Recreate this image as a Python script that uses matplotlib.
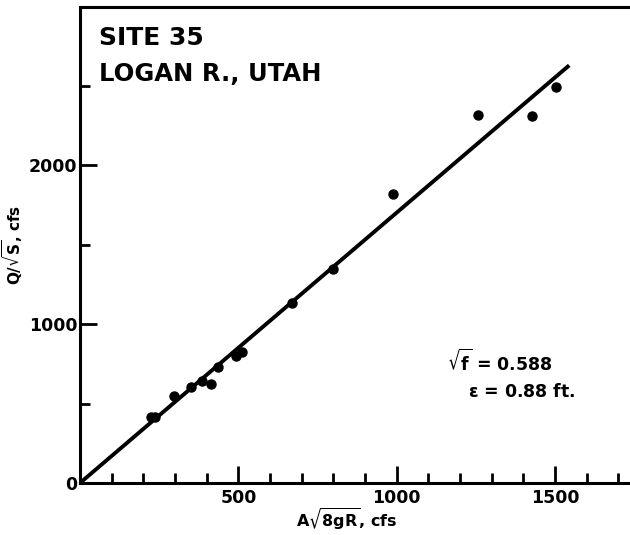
import matplotlib.pyplot as plt
from matplotlib.ticker import FixedLocator, NullFormatter

plt.rcParams['font.family'] = ['DejaVu Sans']
plt.rcParams['font.weight'] = 'bold'
plt.rcParams['mathtext.fontset'] = 'dejavusans'
plt.rcParams['mathtext.default'] = 'bf'

a_sqrt_8gR = [223, 237, 298, 350, 384, 413, 436, 492, 512, 670, 799, 988, 1256, 1427, 1504]
q_sqrt_s = [413, 417, 547, 606, 643, 621, 731, 801, 824, 1135, 1346, 1820, 2312, 2306, 2492]

# fitted line, sqrt(f) = 0.588
line_x = [0, 1545]
line_y = [0, 2627]

x_major = [500, 1000, 1500]
x_minor = [100, 200, 300, 400, 600, 700, 800, 900, 1100, 1200, 1300, 1400, 1600, 1700]
y_major = [0, 1000, 2000]
y_minor = [500, 1500, 2500]

fig = plt.figure(figsize=(6.3, 5.35), dpi=100)
ax = fig.add_axes([80 / 630, 52 / 535, 550 / 630, 476 / 535])

ax.plot(line_x, line_y, color='black', linewidth=2.8, solid_capstyle='butt')
ax.plot(a_sqrt_8gR, q_sqrt_s, 'o', color='black', markersize=6.5)

ax.set_xlim(0, 1737)
ax.set_ylim(0, 2994)

ax.xaxis.set_major_locator(FixedLocator(x_major))
ax.xaxis.set_minor_locator(FixedLocator(x_minor))
ax.yaxis.set_major_locator(FixedLocator(y_major))
ax.yaxis.set_minor_locator(FixedLocator(y_minor))
ax.xaxis.set_minor_formatter(NullFormatter())
ax.yaxis.set_minor_formatter(NullFormatter())

ax.tick_params(axis='both', which='major', direction='in', length=12, width=2, labelsize=12.5, pad=4)
ax.tick_params(axis='both', which='minor', direction='in', length=7, width=2)
ax.tick_params(axis='y', which='major', pad=2)

for side in ['left', 'bottom', 'top']:
    ax.spines[side].set_linewidth(2.2)
ax.spines['right'].set_visible(False)

ax.set_xlabel(r'A$\sqrt{8gR}$, cfs', fontsize=11.5, fontweight='bold')
ax.xaxis.set_label_coords(0.484, -0.05)
ax.set_ylabel(r'Q/$\sqrt{S}$, cfs', fontsize=11, fontweight='bold')
ax.yaxis.set_label_coords(-0.1, 0.5)

ax.text(0.034, 0.935, 'SITE 35', transform=ax.transAxes, fontsize=18, fontweight='bold', va='center')
ax.text(0.034, 0.86, 'LOGAN R., UTAH', transform=ax.transAxes, fontsize=17.5, fontweight='bold', va='center')

ax.text(1160, 760, r'$\sqrt{f}$ = 0.588', fontsize=12.5, fontweight='bold', va='center')
ax.text(1225, 570, r'$\epsilon$ = 0.88 ft.', fontsize=12.5, fontweight='bold', va='center')

fig.savefig('out.png', dpi=100)
